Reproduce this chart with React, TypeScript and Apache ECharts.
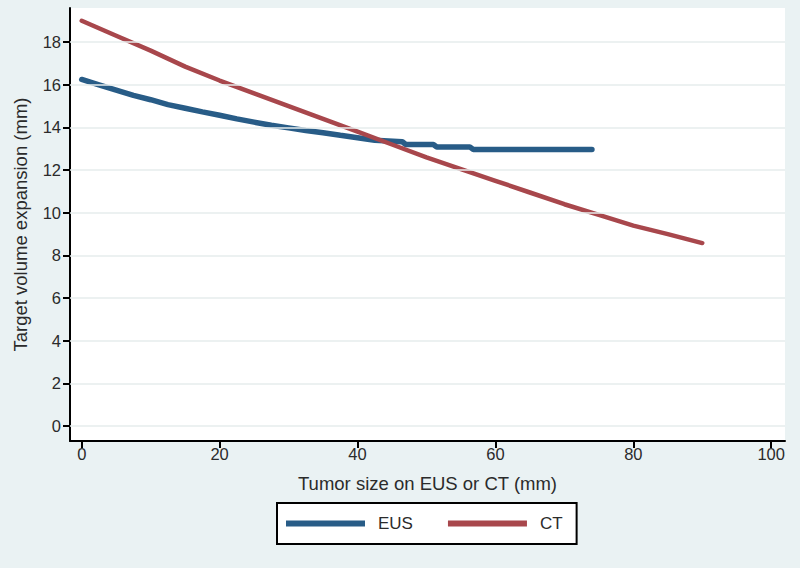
import React, { useEffect, useRef } from "react";
import * as echarts from "echarts";

const xTicks = [0, 20, 40, 60, 80, 100];
const yTicks = [0, 2, 4, 6, 8, 10, 12, 14, 16, 18];

const eusX = [0, 2.5, 5, 7.5, 10, 12.5, 15, 17.5, 20, 22.5, 25, 27.5, 30, 32.5, 35, 37.5, 40, 42.5, 46.5, 47, 51, 51.5, 56.3, 56.8, 74];
const eusY = [16.25, 16.0, 15.75, 15.5, 15.3, 15.07, 14.9, 14.73, 14.57, 14.4, 14.25, 14.1, 13.98, 13.86, 13.75, 13.63, 13.52, 13.4, 13.33, 13.2, 13.2, 13.08, 13.08, 12.97, 12.97];

const ctX = [0, 5, 10, 15, 20, 25, 30, 35, 40, 45, 50, 55, 60, 65, 70, 75, 80, 85, 90];
const ctY = [19.0, 18.3, 17.6, 16.85, 16.2, 15.6, 15.0, 14.4, 13.8, 13.2, 12.6, 12.05, 11.5, 10.95, 10.4, 9.9, 9.4, 9.0, 8.58];

const FONT = "Liberation Sans";
const TEXT = "#2b2b2b";

export default function App() {
  const ref = useRef<HTMLDivElement>(null);
  useEffect(() => {
    if (!ref.current) return;
    const chart = echarts.init(ref.current, undefined, { renderer: "svg" });
    chart.setOption({
      animation: false,
      backgroundColor: "#eaf2f3",
      textStyle: { fontFamily: FONT },
      grid: {
        left: 70,
        right: 15,
        top: 8,
        bottom: 127,
        show: true,
        backgroundColor: "#ffffff",
        borderWidth: 0,
      },
      legend: {
        left: 277,
        top: 503,
        data: ["EUS", "CT"],
        icon: "rect",
        itemWidth: 79,
        itemHeight: 6,
        itemGap: 35,
        padding: [12, 14, 12, 9],
        backgroundColor: "#ffffff",
        borderColor: "#000000",
        borderWidth: 2,
        borderRadius: 0,
        textStyle: { fontSize: 17, color: TEXT, fontFamily: FONT, padding: [0, 0, 0, 8] },
      },
      xAxis: {
        type: "value",
        min: -1.7,
        max: 102,
        name: "Tumor size on EUS or CT (mm)",
        nameLocation: "middle",
        nameGap: 33,
        nameTextStyle: { fontSize: 18.5, color: TEXT, fontFamily: FONT },
        axisLine: { show: true, onZero: false, lineStyle: { color: "#000", width: 2 } },
        axisTick: { show: true, customValues: xTicks, length: 7, lineStyle: { color: "#000", width: 2 } },
        axisLabel: { customValues: xTicks, fontSize: 16.5, color: TEXT, margin: 4, fontFamily: FONT },
        splitLine: { show: false },
      },
      yAxis: {
        type: "value",
        min: -0.7,
        max: 19.6,
        name: "Target volume expansion (mm)",
        nameLocation: "middle",
        nameGap: 40,
        nameTextStyle: { fontSize: 18.5, color: TEXT, fontFamily: FONT },
        axisLine: { show: true, onZero: false, lineStyle: { color: "#000", width: 2 } },
        axisTick: { show: true, customValues: yTicks, length: 7, lineStyle: { color: "#000", width: 2 } },
        axisLabel: { customValues: yTicks, fontSize: 16.5, color: TEXT, margin: 9, fontFamily: FONT },
        splitLine: { show: false },
      },
      series: [
        {
          name: "grid",
          type: "line",
          data: [],
          silent: true,
          z: 1,
          markLine: {
            silent: true,
            symbol: "none",
            label: { show: false },
            lineStyle: { color: "#e6eded", width: 1.5, type: "solid" },
            data: yTicks.map((v) => ({ yAxis: v })),
          },
        },
        {
          name: "EUS",
          type: "line",
          data: eusX.map((x, i) => [x, eusY[i]]),
          showSymbol: false,
          lineStyle: { color: "#285c87", width: 5.5, cap: "round" },
          itemStyle: { color: "#285c87" },
          z: 3,
        },
        {
          name: "CT",
          type: "line",
          data: ctX.map((x, i) => [x, ctY[i]]),
          showSymbol: false,
          lineStyle: { color: "#a8474c", width: 4.5, cap: "round" },
          itemStyle: { color: "#a8474c" },
          z: 4,
        },
      ],
    });
    return () => chart.dispose();
  }, []);
  return <div ref={ref} style={{ width: 800, height: 568, position: "absolute", left: 0, top: 0 }} />;
}
